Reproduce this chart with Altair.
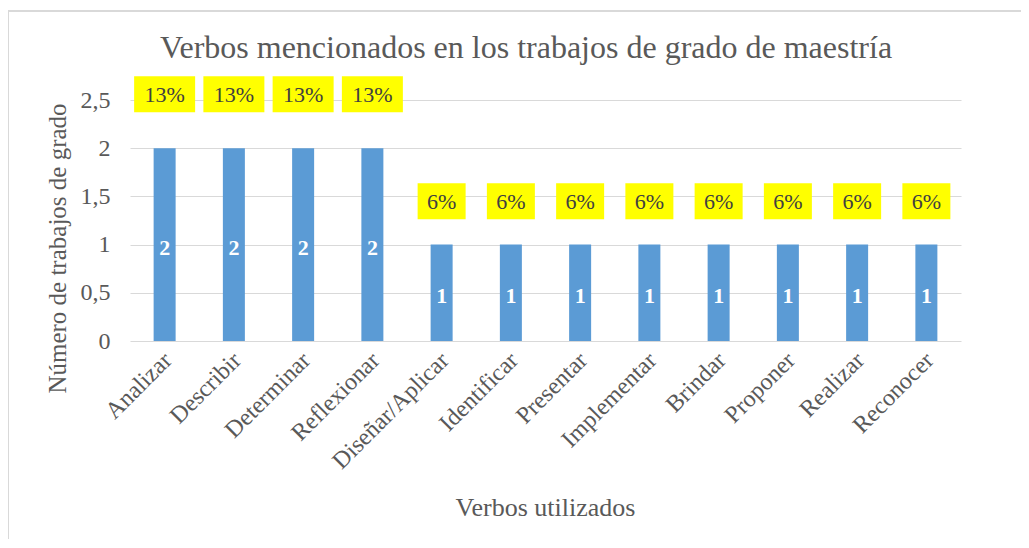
import altair as alt
import pandas as pd

categories = ["Analizar", "Describir", "Determinar", "Reflexionar", "Diseñar/Aplicar",
              "Identificar", "Presentar", "Implementar", "Brindar", "Proponer",
              "Realizar", "Reconocer"]
values = [2, 2, 2, 2, 1, 1, 1, 1, 1, 1, 1, 1]
percents = ["13%", "13%", "13%", "13%", "6%", "6%", "6%", "6%", "6%", "6%", "6%", "6%"]
y_ticks = [0, 0.5, 1, 1.5, 2, 2.5]
title_text = "Verbos mencionados en los trabajos de grado de maestría"

df = pd.DataFrame({"verbo": categories, "n": values, "pct": percents})

FONT = "Liberation Serif"
GRAY = "#595959"

x_enc = alt.X("verbo:N", sort=categories,
              scale=alt.Scale(paddingInner=0, paddingOuter=0),
              axis=alt.Axis(title="Verbos utilizados", labelAngle=-45, labelAlign="right",
                            labelBaseline="top", labelPadding=7, labelOffset=-5,
                            ticks=False, tickSize=0,
                            domain=False, labelFont=FONT, labelFontSize=24,
                            labelColor=GRAY, titleFont=FONT, titleFontSize=26,
                            titleFontWeight="normal", titleColor=GRAY,
                            titleX=415, titleY=166, titleBaseline="middle",
                            titleAlign="center"))

y_enc = alt.Y("n:Q", scale=alt.Scale(domain=[0, 2.5], nice=False),
              axis=alt.Axis(title="Número de trabajos de grado", values=y_ticks,
                            labelExpr="replace(format(datum.value, '~g'), '.', ',')",
                            grid=True, gridColor="#D9D9D9", gridWidth=1,
                            domain=False, ticks=False, tickSize=0, labelPadding=20,
                            labelFont=FONT, labelFontSize=24, labelColor=GRAY,
                            titleFont=FONT, titleFontSize=25, titleFontWeight="normal",
                            titleColor=GRAY, titleX=-73, titleY=148, titleAngle=-90,
                            titleBaseline="middle", titleAlign="center"))

base = alt.Chart(df)
one = base.transform_filter("datum.verbo == 'Analizar'")

border_top = one.mark_rule(stroke="#D9D9D9", strokeWidth=2).encode(
    x=alt.value(-122), x2=alt.value(1200), y=alt.value(-89)
)
border_left = one.mark_rule(stroke="#D9D9D9", strokeWidth=2).encode(
    x=alt.value(-122), y=alt.value(-89), y2=alt.value(700)
)

title = one.mark_text(font=FONT, fontSize=32, color=GRAY, baseline="alphabetic",
                      align="center").encode(
    x=alt.value(396), y=alt.value(-42), text=alt.value(title_text)
)

bars = base.mark_bar(color="#5B9BD5", size=22).encode(x=x_enc, y=y_enc)

inner = base.transform_calculate(mid="datum.n / 2").mark_text(
    color="white", fontWeight="bold", font=FONT, fontSize=22, baseline="middle", dy=3
).encode(x=alt.X("verbo:N", sort=categories), y=alt.Y("mid:Q"), text="n:Q")

lab = base.transform_calculate(
    ly="datum.n * 1.11 + 0.34",
    bw="22 + 13 * length(datum.pct)"
)

boxes = lab.mark_bar(color="#FFFF00", yOffset=-18, y2Offset=18).encode(
    x=alt.X("verbo:N", sort=categories), y=alt.Y("ly:Q"), y2="ly:Q",
    size=alt.Size("bw:Q", scale=None, legend=None)
)

box_text = lab.mark_text(font=FONT, fontSize=22, color="#404040", baseline="middle", dy=1).encode(
    x=alt.X("verbo:N", sort=categories), y=alt.Y("ly:Q"), text="pct:N"
)

chart = alt.layer(border_top, border_left, title, bars, inner, boxes, box_text).properties(
    width=831, height=241,
    autosize=alt.AutoSizeParams(type="none"),
    padding={"left": 122, "top": 92, "right": 60, "bottom": 198}
).configure_view(stroke=None)

chart.save("out.html", embed_options={"renderer": "svg", "actions": False})
